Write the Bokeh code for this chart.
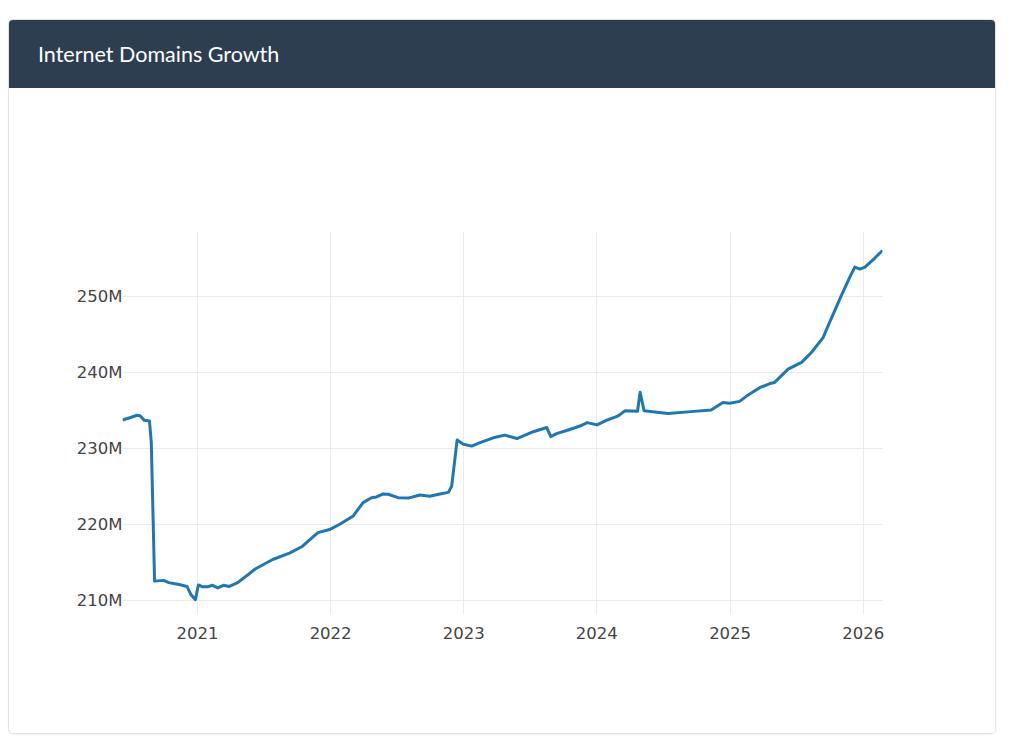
import pandas as pd
from bokeh.plotting import figure
from bokeh.models import Div, FixedTicker, DatetimeTickFormatter, Range1d
from bokeh.layouts import column
from bokeh.embed import file_html
from bokeh.resources import INLINE

title_text = "Internet Domains Growth"

dates = [
    "2020-06-09", "2020-07-01", "2020-07-19", "2020-07-27", "2020-08-08", "2020-08-22",
    "2020-08-27", "2020-09-05", "2020-09-30", "2020-10-14", "2020-11-11", "2020-12-03",
    "2020-12-14", "2020-12-26", "2021-01-03", "2021-01-15", "2021-01-28", "2021-02-11",
    "2021-02-25", "2021-03-13", "2021-03-29", "2021-04-21", "2021-05-14", "2021-06-08",
    "2021-07-26", "2021-09-10", "2021-10-16", "2021-11-27", "2021-12-29", "2022-01-26",
    "2022-03-04", "2022-03-31", "2022-04-23", "2022-05-07", "2022-05-25", "2022-06-08",
    "2022-07-05", "2022-08-02", "2022-09-03", "2022-09-30", "2022-10-28", "2022-11-20",
    "2022-11-29", "2022-12-14", "2022-12-31", "2023-01-23", "2023-02-15", "2023-03-23",
    "2023-04-24", "2023-05-27", "2023-07-11", "2023-08-17", "2023-08-28", "2023-09-13",
    "2023-10-19", "2023-11-16", "2023-12-06", "2024-01-02", "2024-01-30", "2024-02-22",
    "2024-03-02", "2024-03-18", "2024-04-22", "2024-04-29", "2024-05-10", "2024-07-14",
    "2024-09-16", "2024-11-10", "2024-12-12", "2024-12-31", "2025-01-27", "2025-02-15",
    "2025-03-23", "2025-04-20", "2025-05-03", "2025-06-09", "2025-07-16", "2025-08-12",
    "2025-09-13", "2025-09-27", "2025-11-02", "2025-11-25", "2025-12-09", "2025-12-23",
    "2026-01-06", "2026-02-02", "2026-02-23",
]

domains_millions = [
    233.75, 234.07, 234.37, 234.3, 233.7, 233.6,
    230.8, 212.5, 212.6, 212.3, 212.05, 211.8,
    210.7, 210.05, 212.0, 211.75, 211.75, 211.95,
    211.6, 211.95, 211.8, 212.3, 213.15, 214.1,
    215.35, 216.2, 217.1, 218.9, 219.3, 220.0,
    221.1, 222.85, 223.5, 223.6, 224.0, 223.95,
    223.5, 223.45, 223.85, 223.7, 224.0, 224.2,
    225.0, 231.1, 230.55, 230.3, 230.75, 231.4,
    231.75, 231.3, 232.2, 232.75, 231.55, 231.95,
    232.5, 232.95, 233.4, 233.1, 233.75, 234.15,
    234.35, 234.95, 234.9, 237.4, 234.95, 234.6,
    234.85, 235.05, 236.05, 235.95, 236.2, 236.9,
    238.0, 238.55, 238.7, 240.45, 241.35, 242.65,
    244.6, 246.2, 250.15, 252.55, 253.9, 253.65,
    253.9, 255.1, 256.1,
]

y_ticks = [210, 220, 230, 240, 250]
y_tick_labels = ["210M", "220M", "230M", "240M", "250M"]
x_tick_years = ["2021", "2022", "2023", "2024", "2025", "2026"]

x = pd.to_datetime(dates)

p = figure(
    width=986, height=645,
    x_axis_type="datetime",
    x_range=Range1d(start=x.min(), end=x.max()),
    y_range=Range1d(start=208.1, end=258.6),
    output_backend="svg", toolbar_location=None,
    min_border_left=113, min_border_right=113,
    min_border_top=143, min_border_bottom=119,
)
p.outline_line_color = None
p.background_fill_color = "white"
p.border_fill_color = "white"

p.line(x, domains_millions, line_color="#1f77b4", line_width=3, line_join="round")

tick_ms = [pd.Timestamp(y + "-01-01").value / 1e6 for y in x_tick_years]
p.xaxis.ticker = FixedTicker(ticks=tick_ms)
fmt = "%Y"
p.xaxis.formatter = DatetimeTickFormatter(
    years=fmt, months=fmt, days=fmt, hours=fmt, minutes=fmt, seconds=fmt,
    milliseconds=fmt, microseconds=fmt, hourmin=fmt, minsec=fmt)
p.yaxis.ticker = FixedTicker(ticks=y_ticks)
p.yaxis.major_label_overrides = {t: l for t, l in zip(y_ticks, y_tick_labels)}

for ax in (p.xaxis, p.yaxis):
    ax.axis_line_color = None
    ax.major_tick_line_color = None
    ax.minor_tick_line_color = None
    ax.major_tick_out = 0
    ax.major_tick_in = 0
    ax.major_label_text_font = "DejaVu Sans"
    ax.major_label_text_font_size = "16.5px"
    ax.major_label_text_color = "#444444"
p.xaxis.major_label_standoff = 12
p.yaxis.major_label_standoff = 0

p.xgrid.grid_line_color = "#ebebeb"
p.ygrid.grid_line_color = "#ebebeb"
p.xgrid.grid_line_width = 1
p.ygrid.grid_line_width = 1

header = Div(
    text=('<div style="box-sizing:border-box;width:986px;height:68px;background:#2c3e50;'
          'color:#ffffff;font-family:Lato, sans-serif;font-size:21.5px;line-height:68px;'
          'padding-left:29px;">' + title_text + '</div>'),
    width=986, height=68, margin=0,
)

card = column(
    header, p,
    margin=(19, 0, 0, 8),
    styles={"border": "1px solid #e3e3e3", "border-radius": "5px", "overflow": "hidden",
            "box-shadow": "0 1px 2px rgba(0,0,0,0.06)", "background": "white"},
)
p.margin = 0

open("out.html", "w").write(file_html(card, INLINE, title=title_text))
